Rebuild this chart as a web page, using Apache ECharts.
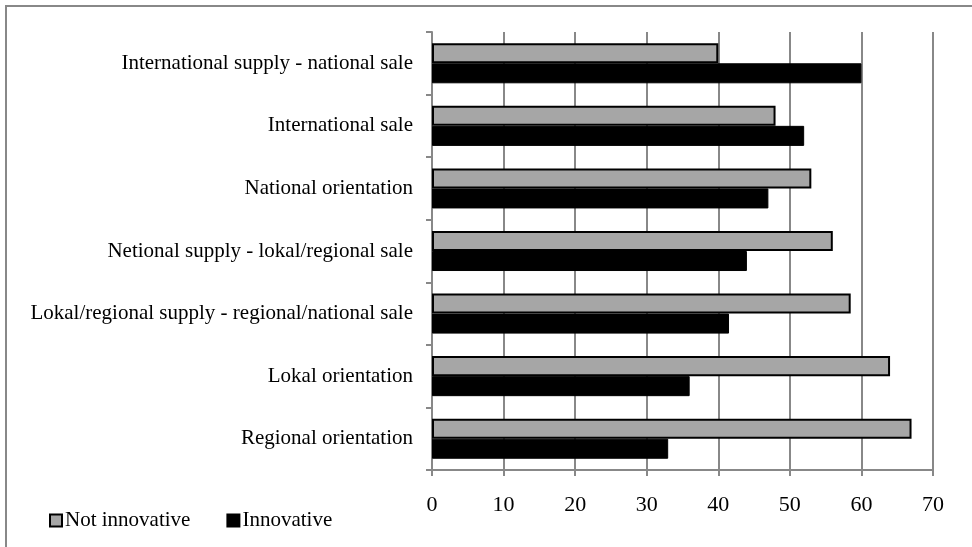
<!DOCTYPE html>
<html>
<head>
<meta charset="utf-8">
<style>
  html, body { margin: 0; padding: 0; background: #ffffff; }
  #chart { width: 972px; height: 547px; }
</style>
<script src="https://cdn.jsdelivr.net/npm/echarts@6/dist/echarts.min.js"></script>
</head>
<body>
<div id="chart"></div>
<script>
// Market orientation categories, listed top to bottom
const categories = [
  'International supply - national sale',
  'International sale',
  'National orientation',
  'Netional supply - lokal/regional sale',
  'Lokal/regional supply - regional/national sale',
  'Lokal orientation',
  'Regional orientation'
];

// Share of firms (%) per orientation
const notInnovative = [40, 48, 53, 56, 58.5, 64, 67];
const innovative = [60, 52, 47, 44, 41.5, 36, 33];

const xTicks = { min: 0, max: 70, interval: 10 };

const serif = '"Liberation Serif", "DejaVu Serif", serif';
const axisGrey = '#888888';

const chart = echarts.init(document.getElementById('chart'), null, { renderer: 'canvas' });

chart.setOption({
  backgroundColor: '#ffffff',
  animation: false,
  graphic: [{
    type: 'rect',
    shape: { x: 6, y: 6, width: 1100, height: 700 },
    style: { fill: 'none', stroke: axisGrey, lineWidth: 2 },
    silent: true,
    z: -10
  }],
  grid: { left: 432, right: 39, top: 32, bottom: 77, containLabel: false },
  legend: {
    left: 44,
    top: 505,
    itemWidth: 12,
    itemHeight: 12,
    itemGap: 36,
    icon: 'rect',
    textStyle: { fontFamily: serif, fontSize: 21, color: '#000', padding: [2, 0, 0, -2] },
    data: ['Not innovative', 'Innovative']
  },
  xAxis: {
    type: 'value',
    min: xTicks.min,
    max: xTicks.max,
    interval: xTicks.interval,
    axisLine: { show: true, lineStyle: { color: axisGrey, width: 2 } },
    axisTick: { show: true, length: 6, lineStyle: { color: axisGrey, width: 2 } },
    splitLine: { show: true, lineStyle: { color: axisGrey, width: 2 } },
    axisLabel: { fontFamily: serif, fontSize: 22, color: '#000', margin: 24 }
  },
  yAxis: {
    type: 'category',
    inverse: true,
    data: categories,
    axisLine: { show: true, lineStyle: { color: axisGrey, width: 2 } },
    axisTick: { show: true, length: 6, lineStyle: { color: axisGrey, width: 2 } },
    axisLabel: { fontFamily: serif, fontSize: 21, color: '#000', margin: 19 }
  },
  series: [
    {
      name: 'Not innovative',
      type: 'bar',
      data: notInnovative,
      barGap: '0%',
      barCategoryGap: '36%',
      itemStyle: { color: '#a6a6a6', borderColor: '#000', borderWidth: 2 }
    },
    {
      name: 'Innovative',
      type: 'bar',
      data: innovative,
      barGap: '0%',
      barCategoryGap: '36%',
      itemStyle: { color: '#000', borderColor: '#000', borderWidth: 1 }
    }
  ]
});
</script>
</body>
</html>
